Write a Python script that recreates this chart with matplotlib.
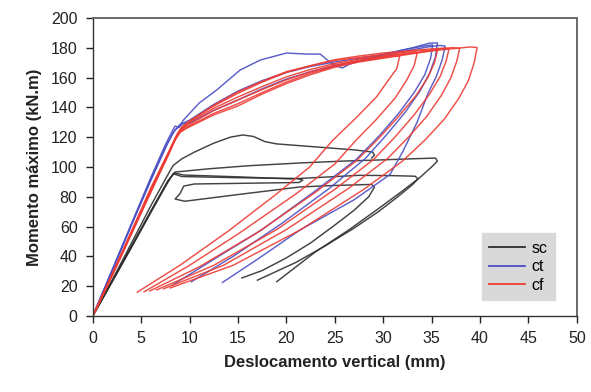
import matplotlib
matplotlib.use("Agg")
import matplotlib.pyplot as plt
from matplotlib.lines import Line2D

plt.rcParams['font.family'] = ['Liberation Sans', 'DejaVu Sans']

# ---- sc: cycles (displacement mm, moment kN.m) ----
sc_c1 = [(0, 0), (2, 23), (4, 46), (6, 69.5), (7.6, 88), (8.3, 95.5), (9.2, 93.6),
         (15, 92.8), (21.1, 92.3), (21.7, 91.2), (21.3, 89.6), (15, 89.0), (10.5, 88.6),
         (9.4, 87.2), (9.0, 82), (8.5, 78.5), (9.5, 77.0), (15, 81.5), (21.4, 86.6),
         (25, 87.6), (28.8, 88.3), (29.1, 86.5), (28.5, 80), (27, 71), (25, 61),
         (22.5, 49), (20, 39), (17.5, 30.5), (15.4, 25.5)]
sc_c2 = [(0, 0), (2, 23.5), (4, 47), (6, 70.5), (7.7, 90), (8.4, 96), (9.4, 94.6),
         (15, 93.4), (20.4, 92.0), (24, 93.2), (27.5, 94.4), (31, 94.2), (33.3, 93.8),
         (33.6, 92), (33, 88), (31.5, 80), (29.5, 70), (27, 59), (24, 47), (21, 36),
         (17, 24)]
sc_c3 = [(0, 0), (2, 23), (4, 46.5), (6, 70), (7.8, 91), (8.5, 96.6), (12, 98.8),
         (16, 100.8), (21.4, 102.7), (26, 104), (30, 104.8), (33, 105.5), (35.4, 106),
         (35.6, 104), (35, 100), (33.8, 93), (32, 84), (29.5, 72), (26.5, 58), (23, 43),
         (21, 33), (19, 23)]
sc_c4 = [(0, 0), (2, 24), (4, 49), (6, 74), (7.6, 93), (8.3, 101), (9.2, 105.5),
         (10.5, 110), (12.5, 116), (14.2, 120), (15.5, 121.5), (16.6, 120.5),
         (17.8, 117), (19, 115.5), (20.4, 114.8), (24, 113), (27, 111.5), (28.9, 110),
         (29.1, 108), (28.8, 106)]

# ---- ct: cycles ----
ct_c1 = [(0, 0), (2, 31), (4, 62), (6, 93), (7.5, 115), (8.2, 124), (8.5, 127.5),
         (8.9, 126.5), (9.3, 131), (11, 143), (12.8, 151.7), (15.2, 165), (17.3, 171.8),
         (20, 176.5), (22.1, 175.8), (23.5, 175.8), (24.2, 172), (25, 168), (25.8, 166.5),
         (26.5, 169), (28, 172), (30, 175.5), (32, 178.5), (34, 181), (35.1, 182),
         (34.9, 173), (34.3, 162), (33.2, 150), (31.6, 136), (29.6, 121), (27.2, 105),
         (23, 84), (17.5, 58), (12.5, 38), (8.3, 21)]
ct_c2 = [(0, 0), (2, 30), (4, 61), (6, 91), (7.6, 114), (8.3, 123), (9, 128.5),
         (10, 131.5), (12.5, 142), (15, 151), (17.5, 158), (20, 163.5), (22.5, 167.5),
         (25, 170.5), (27.5, 173), (30, 175.5), (33, 180), (34.8, 183.2), (35.6, 183.3),
         (35.4, 174), (34.8, 163), (33.8, 151), (32.3, 137), (30.4, 122), (28.2, 106),
         (24.5, 86), (19.5, 62), (14.5, 40), (10.2, 23)]
ct_c3 = [(0, 0), (2, 30.5), (4, 61.5), (6, 92), (7.7, 116), (8.5, 125), (9.3, 129),
         (10, 129.5), (12.5, 138), (15, 145), (17.5, 152.5), (20, 159), (22.5, 164),
         (25, 168), (27.5, 171.5), (30, 174.5), (32.5, 178), (34.5, 180.5), (35.8, 181.6),
         (36.4, 181.2), (36.1, 172), (35.5, 161), (34.6, 149), (33.5, 130), (32, 110),
         (30.7, 95), (27, 78), (21.4, 57.7), (17, 38), (13.4, 22.5)]

# ---- cf: cycles ----
cf_c1 = [(0, 0), (2, 27), (4, 55), (6, 83), (7.8, 108), (8.5, 118), (9.0, 123),
         (10, 127.5), (12.5, 136), (15, 142.5), (17.5, 150), (20, 157), (22.5, 163),
         (25, 167.5), (27.5, 171), (30, 173.5), (31.1, 174.6), (31.7, 174.3),
         (31.4, 166), (30.5, 158), (29.3, 147), (27.2, 133), (24.8, 118), (22.4, 100),
         (19, 82), (14, 57), (9, 34), (4.6, 16)]
cf_c2 = [(0, 0), (2, 27.5), (4, 56), (6, 84), (7.8, 109), (8.6, 120), (9.1, 125),
         (10, 130), (12.5, 139.5), (15, 147), (17.5, 154), (20, 160.5), (22.5, 165.5),
         (25, 169.5), (27.5, 172.5), (30, 174.5), (32.8, 176.6), (33.5, 176.3),
         (33.2, 168), (32.4, 158), (31.2, 146), (29.3, 132), (27.2, 118), (25, 102),
         (21, 82), (15, 55), (10, 34), (5.3, 16.2)]
cf_c3 = [(0, 0), (2, 28), (4, 56.5), (6, 85), (7.9, 110), (8.7, 121), (9.2, 126),
         (10, 130.5), (12.5, 141.5), (15, 150.5), (17.5, 157.5), (20, 164), (22.5, 168),
         (25, 171.5), (27.5, 173.5), (30, 175.5), (32.5, 177.2), (34.9, 178.6),
         (35.6, 178.2), (35.3, 170), (34.6, 160), (33.4, 148), (31.6, 134), (29.5, 119),
         (27.2, 104), (23, 83), (17, 56), (11, 33), (5.9, 16.8)]
cf_c4 = [(0, 0), (2, 27), (4, 55.5), (6, 84), (7.8, 108), (8.5, 119), (9.0, 124),
         (10, 127), (12.5, 135), (15, 141), (17.5, 149), (20, 156), (22.5, 162),
         (25, 167), (27.5, 170.5), (30, 173), (32.5, 175.5), (35, 178), (36.2, 179.6),
         (36.8, 179.3), (36.5, 171), (35.9, 161), (34.8, 149), (33.2, 135), (31.2, 120),
         (29, 105), (25, 85), (19, 58), (12.5, 34), (6.6, 17.5)]
cf_c5 = [(0, 0), (2, 28), (4, 57), (6, 86), (7.9, 111), (8.7, 122), (9.2, 127),
         (10, 131), (12.5, 141), (15, 149.5), (17.5, 157), (20, 163.5), (22.5, 168),
         (25, 172), (27.5, 174.5), (30, 176.5), (32.5, 178), (35, 179.3), (37.2, 180.1),
         (37.9, 179.8), (37.6, 171), (37.0, 160), (36, 148), (34.5, 134), (32.6, 120),
         (30.5, 106), (26.5, 86), (20, 58), (13.5, 34), (7.3, 18.2)]
cf_c6 = [(0, 0), (2, 27.5), (4, 56), (6, 85), (7.8, 109), (8.6, 120), (9.1, 125),
         (10, 128.5), (12.5, 138), (15, 145), (17.5, 152), (20, 158.5), (22.5, 164),
         (25, 168.5), (27.5, 171.5), (30, 174), (32.5, 176), (35, 178), (37.5, 179.6),
         (39.0, 180.6), (39.7, 180.2),
         (39.4, 170), (38.8, 158), (37.8, 146), (36.3, 132), (34.3, 118), (32, 104),
         (28, 85), (21.5, 58), (14.5, 34), (8.0, 18.8)]

series_names = ["sc", "ct", "cf"]
series_colors = ["#2e2e2e", "#4a4fc4", "#ee3b34"]
series_cycles = [
    [sc_c1, sc_c2, sc_c3, sc_c4],
    [ct_c1, ct_c2, ct_c3],
    [cf_c1, cf_c2, cf_c3, cf_c4, cf_c5, cf_c6],
]

x_ticks = [0, 5, 10, 15, 20, 25, 30, 35, 40, 45, 50]
y_ticks = [0, 20, 40, 60, 80, 100, 120, 140, 160, 180, 200]

fig = plt.figure(figsize=(5.91, 3.92), dpi=100)
ax = fig.add_axes([0.157, 0.194, 0.819, 0.760])

for i in range(len(series_names)):
    for cyc in series_cycles[i]:
        xs = [p[0] for p in cyc]
        ys = [p[1] for p in cyc]
        ax.plot(xs, ys, color=series_colors[i], lw=1.05, alpha=0.9,
                solid_joinstyle="round")

ax.set_xlim(0, 50)
ax.set_ylim(0, 200)
ax.set_xticks(x_ticks)
ax.set_yticks(y_ticks)
ax.tick_params(direction="out", length=5, width=1, labelsize=11.5,
               colors="#222222", pad=6)
for side in ["left", "bottom"]:
    ax.spines[side].set_color("#333333")
    ax.spines[side].set_linewidth(1.0)
for side in ["top", "right"]:
    ax.spines[side].set_color("#6a6a6a")
    ax.spines[side].set_linewidth(1.4)

ax.set_xlabel("Deslocamento vertical (mm)", fontsize=12, fontweight="bold",
              color="#222222", labelpad=6)
ax.set_ylabel("Momento máximo (kN.m)", fontsize=12, fontweight="bold",
              color="#222222", labelpad=6)

handles = [Line2D([0], [0], color=c, lw=1.3) for c in series_colors]
leg = ax.legend(handles, series_names, loc="lower right",
                bbox_to_anchor=(0.955, 0.054), borderaxespad=0,
                fontsize=11.5, frameon=True, fancybox=False, framealpha=1,
                handlelength=2.3, borderpad=0.45, labelspacing=0.22,
                handletextpad=0.4)
leg.get_frame().set_facecolor("#d9d9d9")
leg.get_frame().set_edgecolor("#d9d9d9")

fig.savefig("out.png", dpi=100)
